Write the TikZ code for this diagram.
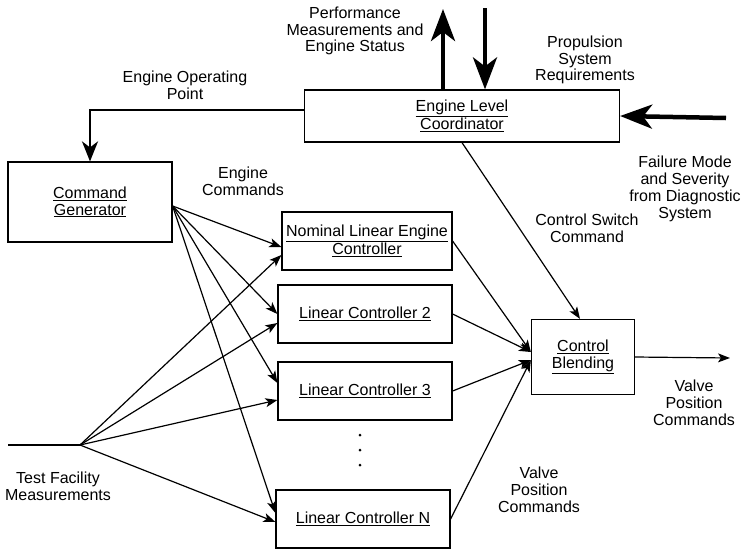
\documentclass[tikz,border=0pt]{standalone}
\usepackage{fontspec}
\setmainfont{Liberation Sans}
\usetikzlibrary{arrows.meta}
\newcommand\ulin[1]{\underline{#1}}
\begin{document}
\begin{tikzpicture}[x=1pt,y=-1pt,line width=1.2pt,
   font=\fontsize{16}{16.8}\selectfont,
   blok/.style={draw,align=center,inner sep=2pt},
   lbl/.style={align=center,inner sep=0pt},
   pijl/.style={-{Stealth[length=12pt,width=9pt,inset=3pt]}},
   halfpijl/.style={line width=2.2pt,-{Stealth[length=20pt,width=16pt,inset=6pt]}},
   dikpijl/.style={line width=4.5pt,-{Stealth[length=32pt,width=24pt,inset=9pt]}}]
   \useasboundingbox (0,0) rectangle (744,555);

   % blocks
   \node[blok,minimum width=315,minimum height=52] (elc) at (462,116) {\ulin{Engine Level}\\\ulin{Coordinator}};
   \node[blok,minimum width=164,minimum height=80] (cmd) at (90,202) {\ulin{Command}\\\ulin{Generator}};
   \node[blok,minimum width=170,minimum height=58] (nom) at (367,241) {\ulin{Nominal Linear Engine}\\\ulin{Controller}};
   \node[blok,minimum width=174,minimum height=58] (lc2) at (365,314) {\ulin{Linear Controller 2}};
   \node[blok,minimum width=174,minimum height=58] (lc3) at (365,391) {\ulin{Linear Controller 3}};
   \node[blok,minimum width=174,minimum height=58] (lcn) at (363,519) {\ulin{Linear Controller N}};
   \node[blok,minimum width=103,minimum height=75] (blend) at (583,357) {\ulin{Control}\\\ulin{Blending}};

   \foreach \y in {435,450,465} \fill (360,\y) circle (1.5pt);

   % labels
   \node[lbl] (perf) at (355,31) {Performance\\Measurements and\\Engine Status};
   \node[lbl] (eop) at (185,85) {Engine Operating\\Point};
   \node[lbl] (psr) at (585,60) {Propulsion\\System\\Requirements};
   \node[lbl] (fms) at (685,189) {Failure Mode\\and Severity\\from Diagnostic\\System};
   \node[lbl] (csc) at (587,228) {Control Switch\\Command};
   \node[lbl] (ecm) at (243,181) {Engine\\Commands};
   \node[lbl] (vpc) at (694,403) {Valve\\Position\\Commands};
   \node[lbl] (vpc2) at (539,490) {Valve\\Position\\Commands};
   \node[lbl] (tfm) at (58,486) {Test Facility\\Measurements};

   % free ends
   \coordinate (perfout) at (443,9);
   \coordinate (psrin) at (485,8);
   \coordinate (fmsin) at (726,118);
   \coordinate (vpcout) at (730,358);
   \coordinate (tfmin) at (8,445);
   \coordinate (split) at (80,445);
   \coordinate (cmdout) at ([yshift=-4pt]cmd.east);

   % heavy connections
   \draw[dikpijl] ([xshift=-19pt]elc.north) -- (perfout);
   \draw[dikpijl] (psrin) -- ([xshift=23pt]elc.north);
   \draw[dikpijl] (fmsin) -- (elc.east);
   \draw[halfpijl] ([yshift=6pt]elc.west) -| (cmd.north);

   % engine commands
   \draw[pijl] (cmdout) -- ([yshift=-6pt]nom.west);
   \draw[pijl] (cmdout) -- (lc2.west);
   \draw[pijl] (cmdout) -- ([yshift=8pt]lc3.west);
   \draw[pijl] (cmdout) -- ([yshift=6pt]lcn.west);

   % test facility measurements
   \draw (tfmin) -- (split);
   \draw[pijl] (split) -- ([yshift=-14pt]nom.west);
   \draw[pijl] (split) -- ([yshift=-9pt]lc2.west);
   \draw[pijl] (split) -- ([yshift=-9pt]lc3.west);
   \draw[pijl] (split) -- ([yshift=-3pt]lcn.west);

   % valve position commands
   \draw[pijl] (nom.east) -- ([yshift=5pt]blend.west);
   \draw[pijl] (lc2.east) -- ([yshift=5pt]blend.west);
   \draw[pijl] (lc3.east) -- ([yshift=-3pt]blend.west);
   \draw[pijl] (lcn.east) -- ([yshift=-3pt]blend.west);
   \draw[pijl] (elc.south) -- ([xshift=-3pt]blend.north);
   \draw[pijl] (blend.east) -- (vpcout);
\end{tikzpicture}
\end{document}
